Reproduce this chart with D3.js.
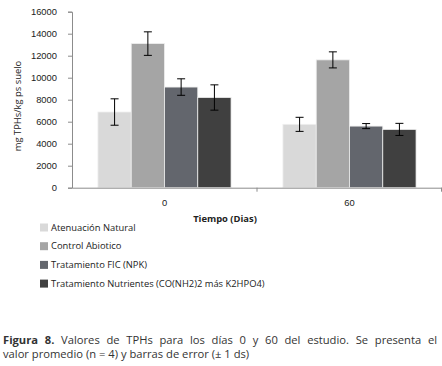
<!DOCTYPE html>
<html>
<head>
<meta charset="utf-8">
<script src="https://cdn.jsdelivr.net/npm/d3@7"></script>
<style>
  body { margin: 0; background: #fff; }
  svg { font-family: "Open Sans", sans-serif; display: block; }
</style>
</head>
<body>
<div id="chart"></div>
<script>
// Chart data
const days = ["0", "60"];
const series = [
    "Atenuación Natural",
    "Control Abiotico",
    "Tratamiento FIC (NPK)",
    "Tratamiento Nutrientes (CO(NH2)2 más K2HPO4)"
];
const means = [
    [6880, 13100, 9150, 8200],
    [5760, 11620, 5600, 5300]
];
const errors = [
    [1200, 1070, 750, 1150],
    [640, 730, 230, 550]
];
const yTicks = [0, 2000, 4000, 6000, 8000, 10000, 12000, 14000, 16000];
const colors = ["#d9d9d9", "#a5a5a5", "#63666d", "#404040"];

const width = 442, height = 366;
const margin = { left: 72 };
const fs = 9.4;

const svg = d3.select("#chart").append("svg")
    .attr("width", width)
    .attr("height", height);

// Scales
const x0 = d3.scaleBand()
    .domain(days)
    .range([margin.left, 442]);

const x1 = d3.scaleBand()
    .domain(series)
    .range([0, x0.bandwidth()])
    .paddingOuter(0.78)
    .paddingInner(0);

const y = d3.scaleLinear()
    .domain([0, 16000])
    .range([187.7, 11.7]);

// Y axis
const yAxis = svg.append("g")
    .attr("transform", `translate(${margin.left},0)`)
    .call(d3.axisLeft(y).tickValues(yTicks).tickSize(4).tickPadding(11).tickFormat(d3.format("d")));
yAxis.select(".domain").attr("stroke", "#8c8c8c");
yAxis.selectAll(".tick line").attr("stroke", "#8c8c8c");
yAxis.selectAll("text").attr("font-size", fs).attr("fill", "#222");

// Bars
const groups = svg.selectAll(".group")
    .data(days)
    .enter().append("g")
    .attr("transform", d => `translate(${x0(d)},0)`);

groups.each(function(day, i) {
    const g = d3.select(this);
    series.forEach((s, j) => {
        const v = means[i][j];
        g.append("rect")
            .attr("x", x1(s))
            .attr("y", y(v))
            .attr("width", x1.bandwidth())
            .attr("height", y(0) - y(v))
            .attr("fill", colors[j])
            .attr("stroke", "#eeeeee")
            .attr("stroke-width", 0.8);

        // Error bars
        const cx = x1(s) + x1.bandwidth() / 2;
        const hi = y(v + errors[i][j]);
        const lo = y(v - errors[i][j]);
        g.append("line")
            .attr("x1", cx).attr("x2", cx)
            .attr("y1", hi).attr("y2", lo)
            .attr("stroke", "#000").attr("stroke-width", 1);
        [hi, lo].forEach(yy => {
            g.append("line")
                .attr("x1", cx - 4).attr("x2", cx + 4)
                .attr("y1", yy).attr("y2", yy)
                .attr("stroke", "#000").attr("stroke-width", 1);
        });
    });
});

// X axis
const xAxis = svg.append("g")
    .attr("transform", `translate(0,${y(0)})`)
    .call(d3.axisBottom(x0).tickSize(0).tickPadding(12));
xAxis.select(".domain").attr("stroke", "#8c8c8c");
xAxis.selectAll("text").attr("font-size", fs).attr("fill", "#222");

// category boundary ticks
svg.append("g").selectAll("line")
    .data(days.slice(1).concat(["end"]))
    .enter().append("line")
    .attr("x1", (d, i) => i < days.length - 1 ? x0(d) : 441.5)
    .attr("x2", (d, i) => i < days.length - 1 ? x0(d) : 441.5)
    .attr("y1", y(0))
    .attr("y2", y(0) + 4)
    .attr("stroke", "#8c8c8c");

// Axis titles
svg.append("text")
    .attr("x", 225)
    .attr("y", 221.5)
    .attr("text-anchor", "middle")
    .attr("font-size", fs)
    .attr("font-weight", "bold")
    .attr("fill", "#222")
    .text("Tiempo (Dias)");

svg.append("text")
    .attr("transform", "translate(21,106) rotate(-90)")
    .attr("text-anchor", "middle")
    .attr("font-size", fs)
    .attr("fill", "#222")
    .text("mg TPHs/kg ps suelo");

// Legend
const legend = svg.append("g")
    .selectAll("g")
    .data(series)
    .enter().append("g")
    .attr("transform", (d, i) => `translate(40,${227.5 + i * 18.7})`);

legend.append("rect")
    .attr("x", 0).attr("y", -4)
    .attr("width", 8).attr("height", 8)
    .attr("fill", (d, i) => colors[i]);

legend.append("text")
    .attr("x", 11)
    .attr("y", 0)
    .attr("dy", "0.35em")
    .attr("font-size", fs)
    .attr("fill", "#222")
    .text(d => d);

// Caption (first line justified to full width)
const line1 = svg.append("text")
    .attr("x", 3).attr("y", 344)
    .attr("font-size", 11.2)
    .attr("fill", "#333");
line1.append("tspan").attr("font-weight", "bold").text("Figura 8.");
line1.append("tspan").text(" Valores de TPHs para los días 0 y 60 del estudio. Se presenta el");
const w1 = line1.node().getComputedTextLength();
const spaces = (line1.text().match(/ /g) || []).length;
line1.attr("word-spacing", Math.max(0, (434 - w1) / spaces));

svg.append("text")
    .attr("x", 3).attr("y", 358)
    .attr("font-size", 11.2)
    .attr("fill", "#333")
    .text("valor promedio (n = 4) y barras de error (± 1 ds)");
</script>
</body>
</html>
